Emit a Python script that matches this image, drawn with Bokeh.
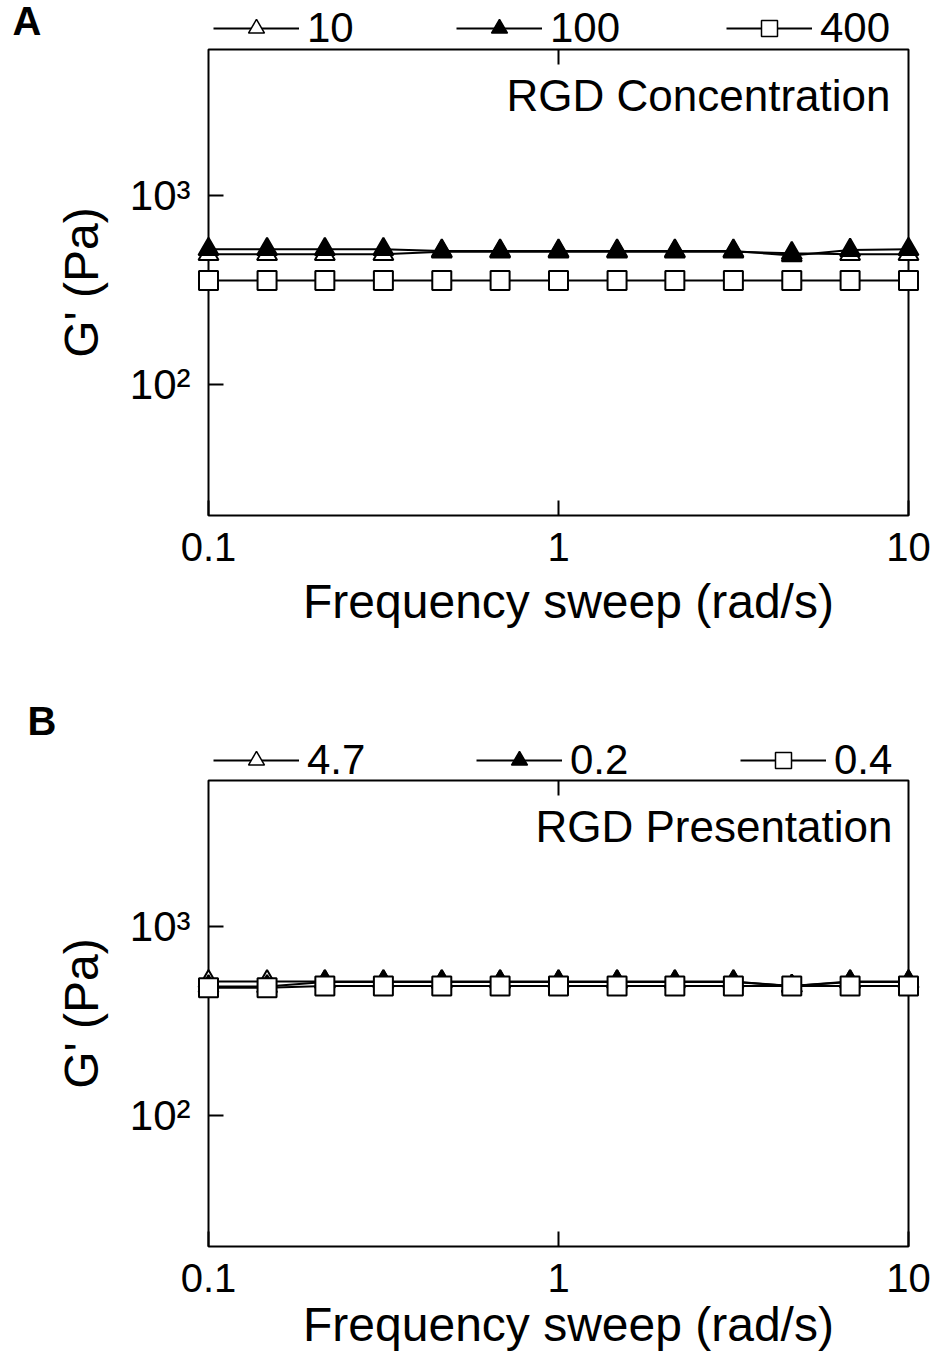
import math
from bokeh.plotting import figure
from bokeh.layouts import column
from bokeh.models import (LogAxis, FixedTicker, CustomJSTickFormatter, Label,
                          Legend, LegendItem, Range1d, BoxAnnotation)
from bokeh.embed import file_html
from bokeh.resources import INLINE

# ---- data ----
freq = [0.1, 0.147, 0.215, 0.316, 0.464, 0.681, 1.0, 1.47, 2.15, 3.16, 4.64, 6.81, 10.0]

conc_names = ["10", "100", "400"]
conc_10 = [490, 490, 490, 490, 505, 505, 505, 505, 505, 505, 495, 490, 490]
conc_100 = [520, 520, 520, 520, 510, 510, 510, 510, 510, 510, 482, 515, 520]
conc_400 = [355, 355, 355, 355, 355, 355, 355, 355, 355, 355, 355, 355, 355]

pres_names = ["4.7", "0.2", "0.4"]
pres_47 = [512, 512, 512, 512, 512, 512, 512, 512, 512, 512, 485, 512, 512]
pres_02 = [482, 482, 510, 510, 510, 510, 510, 510, 510, 510, 485, 510, 510]
pres_04 = [475, 475, 485, 485, 485, 485, 485, 485, 485, 485, 485, 485, 485]

x_ticks = [0.1, 1, 10]
y_ticks = [100, 1000]
x_lim = (0.1, 10)
y_lim = (20, 6000)

FONT = "Liberation Sans"
MARKERS = ["triangle", "triangle", "square"]
FILLS = ["white", "black", "white"]
SIZES = [20, 20, 19]

W = 934
BOX_L, BOX_R = 208, 908
XLAB_CENTER = 568


def panel(letter, note, names, series, H, box_top, box_bot, legend_x, legend_cy,
          letter_pos, note_pos, xlab_standoff):
    # ranges chosen so that the axes box lands on the wanted pixels
    dec_x = (BOX_R - BOX_L) / math.log10(x_lim[1] / x_lim[0])
    dec_y = (box_bot - box_top) / math.log10(y_lim[1] / y_lim[0])
    xr = Range1d(x_lim[0] * 10 ** (-BOX_L / dec_x), x_lim[1] * 10 ** ((W - BOX_R) / dec_x))
    yr = Range1d(y_lim[0] * 10 ** (-(H - box_bot) / dec_y), y_lim[1] * 10 ** (box_top / dec_y))

    p = figure(width=W, height=H, x_axis_type="log", y_axis_type="log",
               x_range=xr, y_range=yr, output_backend="svg", toolbar_location=None,
               min_border=0, background_fill_color="white", border_fill_color="white")
    p.min_border_left = p.min_border_right = p.min_border_top = p.min_border_bottom = 0
    p.outline_line_color = None
    p.xgrid.visible = False
    p.ygrid.visible = False

    # axis bounds: the label is centred on them
    x_hi = x_lim[1] * 10 ** (2 * (XLAB_CENTER - (BOX_L + BOX_R) / 2) / dec_x)

    xa = p.xaxis[0]
    xa.fixed_location = y_lim[0]
    xa.bounds = (x_lim[0], x_hi)
    xa.ticker = FixedTicker(ticks=x_ticks)
    xa.formatter = CustomJSTickFormatter(code="return String(tick);")
    xa.axis_line_color = None
    xa.major_tick_in = 15
    xa.major_tick_out = 0
    xa.major_tick_line_width = 2
    xa.minor_tick_line_color = None
    xa.major_label_text_font = FONT
    xa.major_label_text_font_size = "40px"
    xa.major_label_text_color = "black"
    xa.major_label_standoff = 17
    xa.axis_label = "Frequency sweep (rad/s)"
    xa.axis_label_text_font = FONT
    xa.axis_label_text_font_size = "48px"
    xa.axis_label_text_font_style = "normal"
    xa.axis_label_text_color = "black"
    xa.axis_label_standoff = xlab_standoff

    ya = p.yaxis[0]
    ya.fixed_location = x_lim[0]
    ya.bounds = y_lim
    ya.ticker = FixedTicker(ticks=y_ticks)
    ya.formatter = CustomJSTickFormatter(
        code="return tick > 500 ? '10\\u00b3' : '10\\u00b2';")
    ya.axis_line_color = None
    ya.major_tick_in = 15
    ya.major_tick_out = 0
    ya.major_tick_line_width = 2
    ya.minor_tick_line_color = None
    ya.major_label_text_font = FONT
    ya.major_label_text_font_size = "42px"
    ya.major_label_text_color = "black"
    ya.major_label_standoff = 18
    ya.axis_label = "G' (Pa)"
    ya.axis_label_text_font = FONT
    ya.axis_label_text_font_size = "48px"
    ya.axis_label_text_font_style = "normal"
    ya.axis_label_text_color = "black"
    ya.axis_label_standoff = 19

    top_ax = LogAxis(ticker=FixedTicker(ticks=[1]), fixed_location=y_lim[1],
                     formatter=CustomJSTickFormatter(code="return '';"),
                     axis_line_color=None, major_tick_in=15, major_tick_out=0,
                     major_tick_line_width=2, minor_tick_line_color=None,
                     major_label_text_font_size="0px", major_label_standoff=0)
    p.add_layout(top_ax, "above")

    box = BoxAnnotation(left=x_lim[0], right=x_lim[1], bottom=y_lim[0], top=y_lim[1],
                        fill_color=None, fill_alpha=0,
                        line_color="black", line_alpha=1.0, line_width=2)
    p.add_layout(box)

    for ys, mk, fc, sz in zip(series, MARKERS, FILLS, SIZES):
        p.line(freq, ys, line_color="black", line_width=2, level="overlay")
        p.scatter(freq, ys, marker=mk, size=sz, fill_color=fc,
                  line_color="black", line_width=2, level="overlay")

    leg_h = 47
    for name, ys, mk, fc, vx in zip(names, series, MARKERS, FILLS, legend_x):
        lr = p.line(freq, ys, line_color="black", line_width=2, visible=False)
        sr = p.scatter(freq, ys, marker=mk, size=14, fill_color=fc,
                       line_color="black", line_width=1.5, visible=False)
        leg = Legend(items=[LegendItem(label=name, renderers=[lr, sr])],
                     location=(vx, H - legend_cy - leg_h / 2), orientation="horizontal",
                     border_line_color=None, background_fill_alpha=0,
                     padding=0, margin=0, glyph_width=86, glyph_height=40,
                     label_standoff=8, label_text_font=FONT,
                     label_text_font_size="42px", label_text_color="black",
                     spacing=0)
        p.add_layout(leg)

    p.add_layout(Label(x=note_pos[0], y=H - note_pos[1], x_units="screen", y_units="screen",
                       text=note, text_align="right", text_baseline="middle",
                       text_font=FONT, text_font_size="44px", text_color="black"))
    p.add_layout(Label(x=letter_pos[0], y=H - letter_pos[1], x_units="screen", y_units="screen",
                       text=letter, text_align="left", text_baseline="middle",
                       text_font=FONT, text_font_size="40px", text_font_style="bold",
                       text_color="black"))
    return p


HA, HB = 668, 687
pA = panel("A", "RGD Concentration", conc_names, [conc_10, conc_100, conc_400],
           HA, 49, 515, [213, 456, 726], 28, (12, 20), (890, 95), 11)
pB = panel("B", "RGD Presentation", pres_names, [pres_47, pres_02, pres_04],
           HB, 780 - HA, 1246 - HA, [213, 476, 740], 760 - HA, (27, 720 - HA),
           (892, 826 - HA), 3)

layout = column(pA, pB)
open("out.html", "w", encoding="utf-8").write(file_html(layout, INLINE))
